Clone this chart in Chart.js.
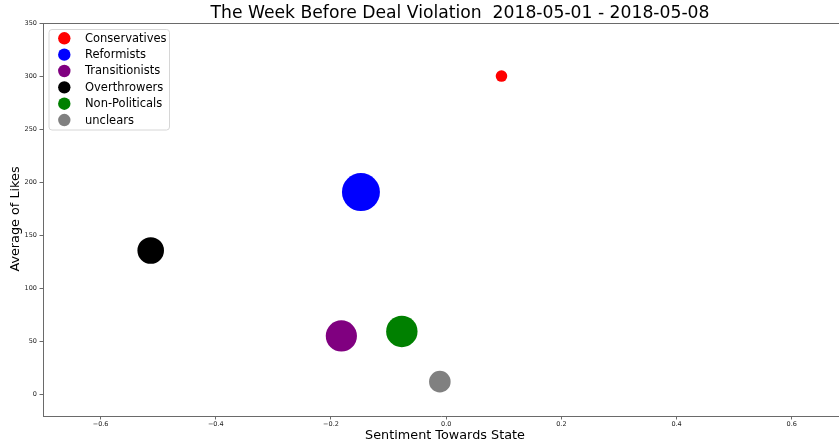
<!DOCTYPE html>
<html>
<head>
<meta charset="utf-8">
<script src="https://cdn.jsdelivr.net/npm/chart.js@4.4.1/dist/chart.umd.min.js"></script>
<style>
html,body{margin:0;padding:0;background:#fff;}
canvas{display:block;}
</style>
</head>
<body>
<canvas id="c" width="839" height="448"></canvas>
<script>
const categories = ['Conservatives','Reformists','Transitionists','Overthrowers','Non-Politicals','unclears'];
const sentiment = [0.096, -0.148, -0.182, -0.513, -0.077, -0.011];
const avgLikes = [300, 190.6, 55, 135.5, 59.2, 11.9];
const bubbleSize = [5.8, 19, 15.6, 13.3, 15.7, 10.8];
const colors = ['#ff0000','#0000ff','#800080','#000000','#008000','#808080'];
const xTicks = [-0.6, -0.4, -0.2, 0.0, 0.2, 0.4, 0.6];
const yTicks = [0, 50, 100, 150, 200, 250, 300, 350];
const titleText = 'The Week Before Deal Violation  2018-05-01 - 2018-05-08';
const xLabel = 'Sentiment Towards State';
const yLabel = 'Average of Likes';

const FONT = '"DejaVu Sans", sans-serif';
const SPINE = '#6a6a6a';

const datasets = categories.map((c, i) => ({
  label: c,
  data: [{x: sentiment[i], y: avgLikes[i], r: bubbleSize[i]}],
  backgroundColor: colors[i],
  borderWidth: 0,
  hoverBorderWidth: 0,
  hoverRadius: 0
}));

const decor = {
  id: 'decor',
  afterDraw(chart) {
    const ctx = chart.ctx;
    const a = chart.chartArea;
    ctx.save();
    ctx.strokeStyle = SPINE;
    ctx.lineWidth = 1;
    ctx.beginPath();
    ctx.moveTo(a.left, a.top + 0.5);
    ctx.lineTo(839, a.top + 0.5);
    ctx.stroke();
    ctx.fillStyle = '#000';
    ctx.font = '17.2px ' + FONT;
    ctx.textAlign = 'center';
    ctx.textBaseline = 'middle';
    ctx.fillText(titleText, 460, 14);
    ctx.font = '12.8px ' + FONT;
    ctx.fillText(xLabel, 445, 435.5);
    ctx.save();
    ctx.translate(16, 219);
    ctx.rotate(-Math.PI / 2);
    ctx.fillText(yLabel, 0, 0);
    ctx.restore();
    const bx = 49, by = 29.5, bw = 120.5, bh = 100.5, rad = 3;
    ctx.fillStyle = 'rgba(255,255,255,0.8)';
    ctx.strokeStyle = '#d6d6d6';
    ctx.lineWidth = 1;
    ctx.beginPath();
    ctx.moveTo(bx + rad, by);
    ctx.lineTo(bx + bw - rad, by);
    ctx.arcTo(bx + bw, by, bx + bw, by + rad, rad);
    ctx.lineTo(bx + bw, by + bh - rad);
    ctx.arcTo(bx + bw, by + bh, bx + bw - rad, by + bh, rad);
    ctx.lineTo(bx + rad, by + bh);
    ctx.arcTo(bx, by + bh, bx, by + bh - rad, rad);
    ctx.lineTo(bx, by + rad);
    ctx.arcTo(bx, by, bx + rad, by, rad);
    ctx.closePath();
    ctx.fill();
    ctx.stroke();
    ctx.font = '11.5px ' + FONT;
    ctx.textAlign = 'left';
    chart.data.datasets.forEach((ds, i) => {
      const cy = 38.3 + i * 16.35;
      ctx.fillStyle = ds.backgroundColor;
      ctx.beginPath();
      ctx.arc(64.3, cy, 6.2, 0, Math.PI * 2);
      ctx.fill();
      ctx.fillStyle = '#000';
      ctx.fillText(ds.label, 85, cy + 0.5);
    });
    ctx.restore();
  }
};

const fmt = v => {
  const s = Math.abs(v) < 1e-9 ? '0.0' : v.toFixed(1);
  return s.replace('-', '\u2212');
};

new Chart(document.getElementById('c'), {
  type: 'bubble',
  data: { datasets },
  options: {
    responsive: false,
    animation: false,
    events: [],
    layout: { autoPadding: false, padding: { top: 23, left: 0, right: 0, bottom: 0 } },
    plugins: { legend: { display: false }, title: { display: false }, tooltip: { enabled: false } },
    scales: {
      x: {
        type: 'linear',
        min: -0.7,
        max: 0.682,
        afterBuildTicks: s => { s.ticks = xTicks.map(v => ({ value: v })); },
        afterFit: s => { s.height = 32; s.paddingLeft = 0; s.paddingRight = 0; },
        grid: { display: true, drawOnChartArea: false, drawTicks: true, tickLength: 3.5, color: SPINE },
        border: { display: true, color: SPINE, width: 1 },
        ticks: { font: { family: FONT, size: 6.5 }, color: '#222', padding: 1, maxRotation: 0, callback: v => fmt(v) }
      },
      y: {
        type: 'linear',
        min: -20.5,
        max: 350,
        afterBuildTicks: s => { s.ticks = yTicks.map(v => ({ value: v })); },
        afterFit: s => { s.width = 43; s.paddingTop = 0; s.paddingBottom = 0; },
        grid: { display: true, drawOnChartArea: false, drawTicks: true, tickLength: 3.5, color: SPINE },
        border: { display: true, color: SPINE, width: 1 },
        ticks: { font: { family: FONT, size: 6.5 }, color: '#222', padding: 2.5, callback: v => String(v) }
      }
    }
  },
  plugins: [decor]
});
</script>
</body>
</html>
